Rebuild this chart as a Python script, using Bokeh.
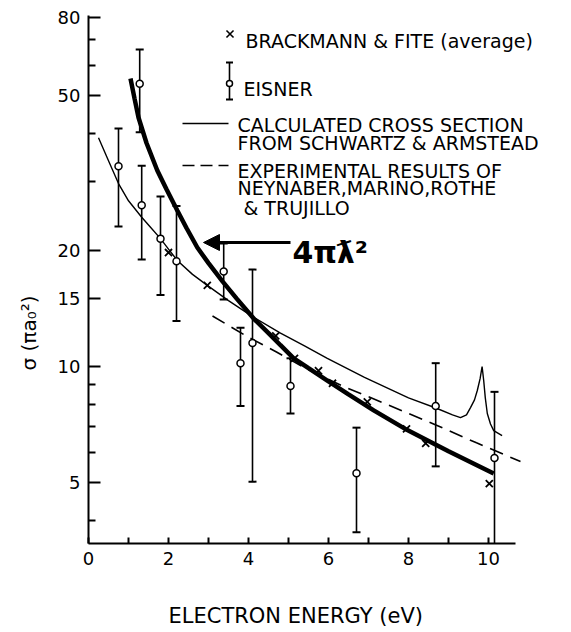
import math
from bokeh.plotting import figure
from bokeh.models import Range1d, FixedTicker, PrintfTickFormatter, Label, Arrow, NormalHead, Title
from bokeh.embed import file_html
from bokeh.resources import INLINE

# ---------------- data ----------------
# Eisner: energy (eV), cross section, error-bar top, error-bar bottom
eisner_E = [0.75, 1.28, 1.33, 1.8, 2.2, 3.38, 3.8, 4.1, 5.05, 6.7, 8.68, 10.15]
eisner_s = [32.9, 53.8, 26.1, 21.4, 18.7, 17.6, 10.2, 11.5, 8.9, 5.3, 7.9, 5.8]
eisner_hi = [41.2, 65.9, 33.0, 27.5, 26.0, 20.8, 12.6, 17.8, 10.5, 6.95, 10.2, 8.6]
eisner_lo = [23.0, 40.3, 18.9, 15.3, 13.1, 14.9, 7.9, 5.04, 7.56, 3.73, 5.52, 3.49]

# Brackmann & Fite (average)
bf_E = [2.0, 2.97, 4.68, 5.15, 5.75, 6.1, 6.97, 7.95, 8.43, 10.02]
bf_s = [19.7, 16.2, 12.0, 10.5, 9.75, 9.05, 8.1, 6.9, 6.33, 4.98]

# 4 pi lambdabar^2 (thick curve)
lam_E = [1.05, 1.15, 1.25, 1.45, 1.72, 1.95, 2.22, 2.45, 2.72, 3.0, 3.35, 3.7, 4.13,
         4.5, 4.8, 5.13, 5.5, 5.97, 6.5, 7.13, 7.97, 9.0, 10.13]
lam_s = [55.5, 49.3, 44.0, 37.8, 32.1, 28.7, 25.3, 22.8, 20.3, 18.5, 16.6, 15.0, 13.3,
         12.2, 11.35, 10.5, 9.9, 9.2, 8.47, 7.7, 6.85, 6.04, 5.29]

# Calculated cross section, Schwartz & Armstead (thin solid)
calc_E = [0.25, 0.5, 0.75, 1.0, 1.33, 1.55, 1.8, 2.0, 2.22, 2.6, 2.97, 3.5, 4.13, 4.8, 5.4,
          5.97, 6.9, 8.0, 8.7, 9.1, 9.3, 9.45, 9.55, 9.65, 9.72, 9.79, 9.84, 9.88, 9.92,
          9.97, 10.05, 10.13, 10.34]
calc_s = [39.0, 34.0, 29.7, 26.8, 24.3, 22.9, 21.4, 20.1, 18.8, 17.3, 16.2, 14.8, 13.4, 12.2,
          11.3, 10.5, 9.37, 8.3, 7.8, 7.5, 7.38, 7.5, 7.83, 8.2, 8.67, 9.3, 10.0, 9.2, 8.3,
          7.56, 7.1, 6.83, 6.63]

# Experimental results of Neynaber, Marino, Rothe & Trujillo (dashed)
ney_E = [3.1, 4.0, 4.7, 5.5, 6.35, 7.5, 8.7, 9.7, 10.8]
ney_s = [13.5, 11.9, 10.9, 9.8, 8.9, 7.95, 7.05, 6.35, 5.68]

x_major = [0, 2, 4, 6, 8, 10]
x_minor = [1, 3, 5, 7, 9]
y_major = [5, 10, 15, 20, 50, 80]
y_minor = [4, 6, 7, 8, 9, 30, 40, 60, 70]

legend_lines = ["BRACKMANN & FITE (average)", "EISNER", "CALCULATED CROSS SECTION",
                "FROM SCHWARTZ & ARMSTEAD", "EXPERIMENTAL RESULTS OF",
                "NEYNABER,MARINO,ROTHE", "& TRUJILLO"]
x_label = "ELECTRON ENERGY (eV)"
y_label = "σ (πa₀²)"

# ---------------- layout helpers (page pixel -> data) ----------------
def X(px):
    return (px - 88) / 40.0

def Y(py):
    return 10 ** (1 + (366 - py) / 387.0)

FONT = "DejaVu Sans"

p = figure(frame_width=480, frame_height=528,
           min_border_left=88, min_border_right=0, min_border_top=15, min_border_bottom=85,
           x_range=Range1d(X(88), X(568)), y_range=Range1d(Y(543), Y(15)),
           y_axis_type="log", output_backend="svg", toolbar_location=None, title=None)
p.outline_line_color = None
p.xgrid.visible = False
p.ygrid.visible = False
p.background_fill_color = "white"
p.border_fill_color = "white"

for ax in (p.xaxis[0], p.yaxis[0]):
    ax.axis_line_width = 2
    ax.axis_line_color = "black"
    ax.major_tick_line_width = 2
    ax.minor_tick_line_width = 2
    ax.major_tick_out = 0
    ax.minor_tick_out = 0
    ax.major_label_text_font = FONT
    ax.major_label_text_font_size = "18px"
    ax.major_label_text_color = "black"

p.xaxis.ticker = FixedTicker(ticks=x_major, minor_ticks=x_minor)
p.xaxis.bounds = (X(88), X(515))
p.xaxis.major_tick_in = 6
p.xaxis.minor_tick_in = 6
p.xaxis.major_label_standoff = 8

p.yaxis.ticker = FixedTicker(ticks=y_major, minor_ticks=y_minor)
p.yaxis.formatter = PrintfTickFormatter(format="%d")
p.yaxis.major_tick_in = 12
p.yaxis.minor_tick_in = 7
p.yaxis.major_label_standoff = 8

# axis titles placed as side titles so they can be positioned like the original
p.add_layout(Title(text=x_label, align="left", offset=80, standoff=68,
                   text_font=FONT, text_font_size="21px", text_font_style="normal",
                   text_color="black"), "below")
p.add_layout(Title(text=y_label, align="left", offset=173, standoff=28,
                   text_font=FONT, text_font_size="20px", text_font_style="normal",
                   text_color="black"), "left")

# ---------------- curves ----------------
p.line(calc_E, calc_s, line_width=1.4, color="black")
p.line(ney_E, ney_s, line_width=1.6, color="black", line_dash="14 8")
p.line(lam_E, lam_s, line_width=4.5, color="black")

# Eisner with error bars
p.segment(x0=eisner_E, y0=eisner_lo, x1=eisner_E, y1=eisner_hi, line_width=1.6, color="black")
p.scatter(eisner_E, eisner_hi, marker="dash", size=8, line_width=2, color="black")
lo_cap_E = [e for e, lo in zip(eisner_E, eisner_lo) if lo > Y(540)]
lo_cap = [lo for lo in eisner_lo if lo > Y(540)]
p.scatter(lo_cap_E, lo_cap, marker="dash", size=8, line_width=2, color="black")
p.scatter(eisner_E, eisner_s, marker="circle", size=7, fill_color="white",
          line_color="black", line_width=1.5)

# Brackmann & Fite
p.scatter(bf_E, bf_s, marker="x", size=10, line_width=1.8, color="black")

# ---------------- legend (hand-built, as in the original) ----------------
p.scatter([X(229.5)], [Y(33.5)], marker="x", size=10, line_width=1.6, color="black")
p.segment(x0=[X(229)], y0=[Y(99)], x1=[X(229)], y1=[Y(62)], line_width=1.6, color="black")
p.scatter([X(229), X(229)], [Y(62), Y(99)], marker="dash", size=7, line_width=2, color="black")
p.scatter([X(229)], [Y(83)], marker="circle", size=6, fill_color="white",
          line_color="black", line_width=1.5)
p.line([X(182), X(228)], [Y(123), Y(123)], line_width=1.4, color="black")
p.line([X(182), X(228)], [Y(165), Y(165)], line_width=1.6, color="black", line_dash="12 6")

legend_pos = [(245, 40), (243, 88), (237, 124), (237, 142), (237, 170), (237, 187), (243, 207)]
for txt, (lx, ly) in zip(legend_lines, legend_pos):
    p.add_layout(Label(x=X(lx), y=Y(ly), text=txt, text_align="left",
                       text_baseline="alphabetic", text_font=FONT,
                       text_font_size="19px", text_color="black"))

# 4 pi lambda-bar squared with arrow
p.add_layout(Arrow(end=NormalHead(size=16, fill_color="black", line_color="black"),
                   x_start=X(290), y_start=Y(242), x_end=X(203), y_end=Y(242),
                   line_width=3, line_color="black"))
p.add_layout(Label(x=X(292), y=Y(252), text="4πƛ²", text_align="left",
                   text_baseline="alphabetic", text_font=FONT, text_font_style="bold",
                   text_font_size="30px", text_color="black"))

open("out.html", "w").write(file_html(p, INLINE))
